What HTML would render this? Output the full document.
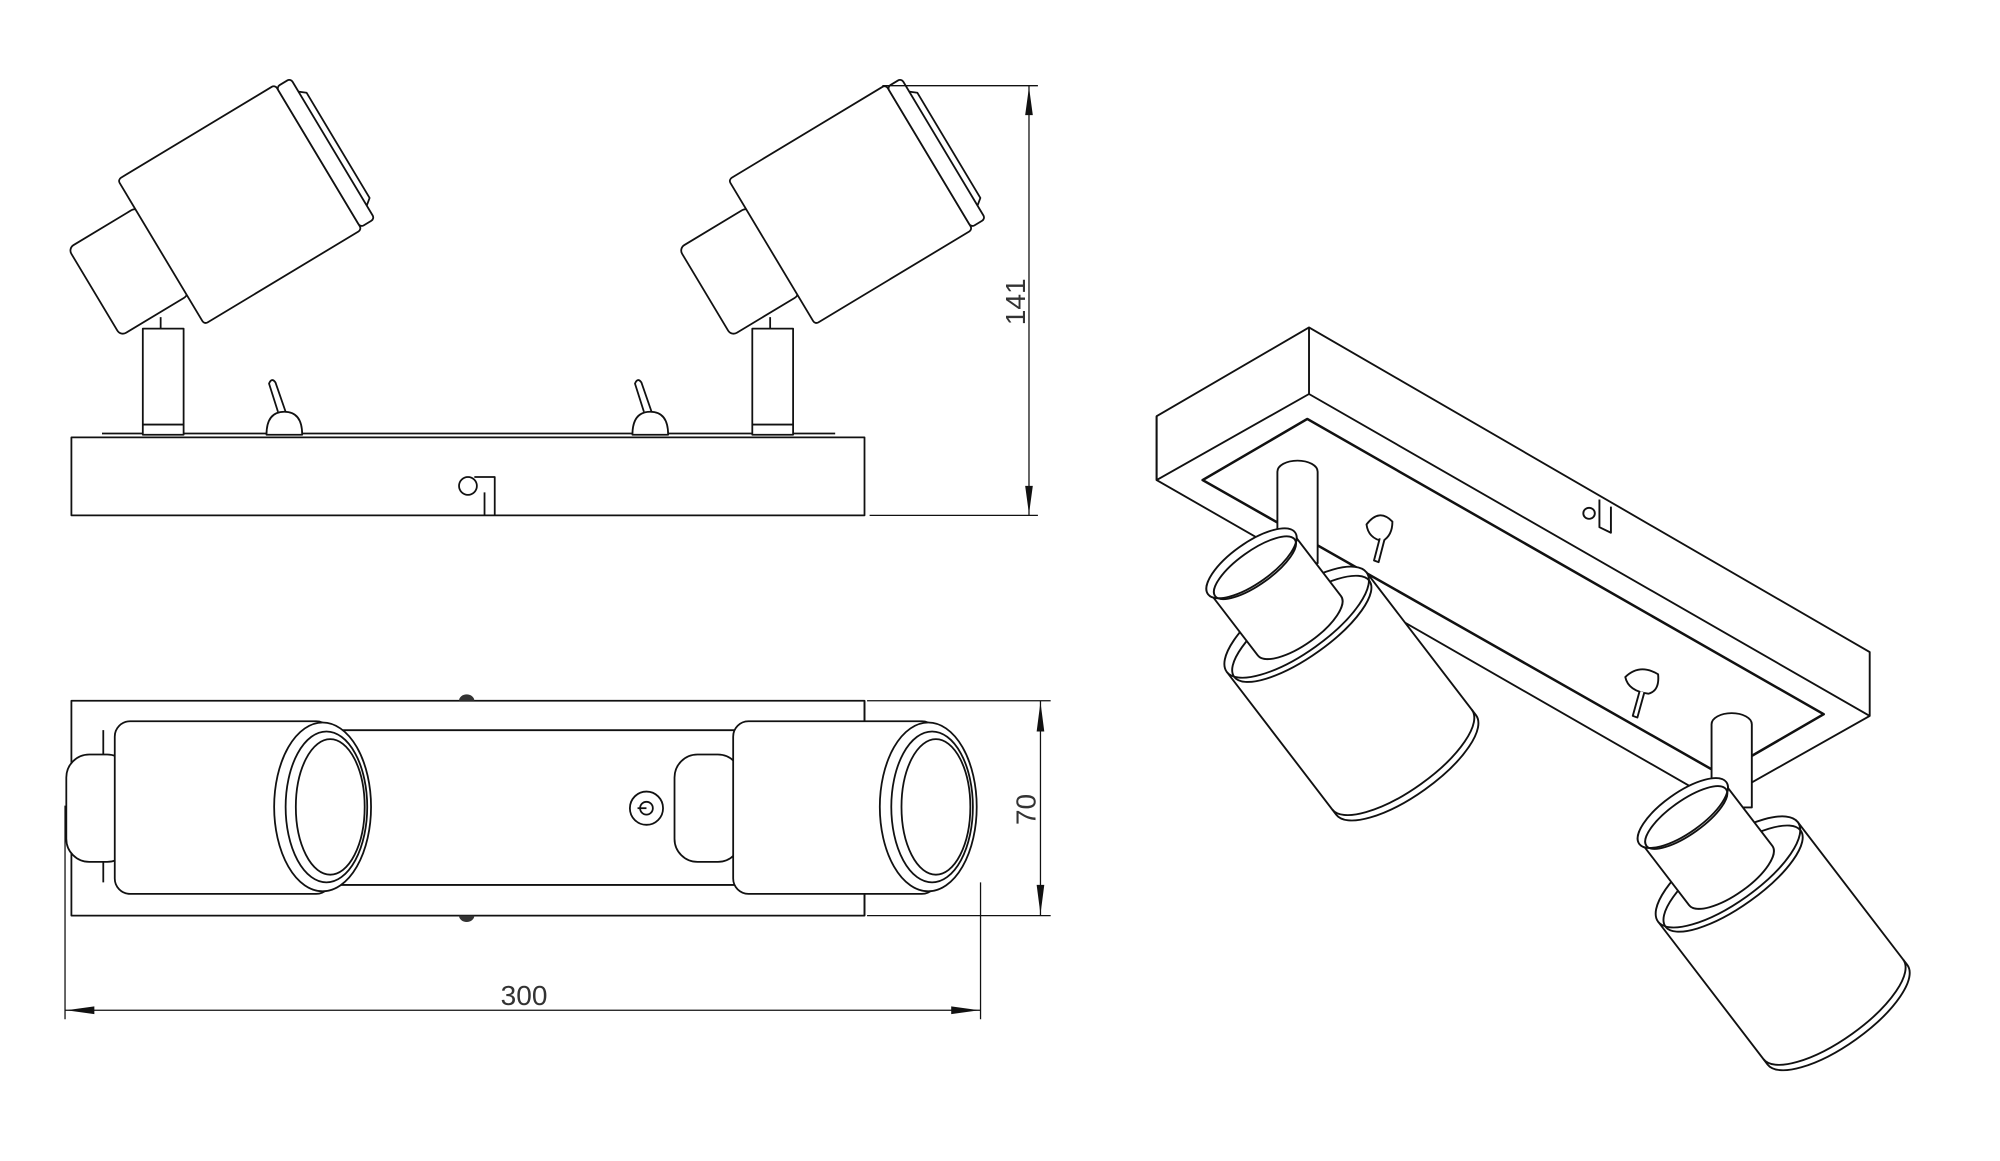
<!DOCTYPE html>
<html><head><meta charset="utf-8"><style>html,body{margin:0;padding:0;background:#fff}svg{display:block}</style></head>
<body>
<svg width="2000" height="1161" viewBox="0 0 1545 897" preserveAspectRatio="none" xmlns="http://www.w3.org/2000/svg">
<g transform="scale(0.985 0.988)">
<g fill="#fff" stroke="#111" stroke-width="1.4" stroke-linejoin="round">

<!-- ===== SIDE VIEW ===== -->
<line x1="80" y1="339" x2="655" y2="339"/>
<rect x="56" y="342" width="622" height="61"/>
<circle cx="367" cy="380" r="7"/>
<path d="M372 373 H388 V403 M380 403 V385" fill="none"/>
<rect x="112" y="257" width="32" height="83"/>
<line x1="112" y1="332" x2="144" y2="332"/>
<rect x="590" y="257" width="32" height="83"/>
<line x1="590" y1="332" x2="622" y2="332"/>
<line x1="126" y1="248" x2="126" y2="257"/><line x1="604" y1="248" x2="604" y2="257"/>
<path d="M209 340 Q209 322 223 322 Q237 322 237 340 Z"/>
<path d="M218 322 L211 300 Q213 295 216 299 L224 322" fill="none"/>
<path d="M496 340 Q496 322 510 322 Q524 322 524 340 Z"/>
<path d="M505 322 L498 300 Q500 295 503 299 L511 322" fill="none"/>
<g transform="translate(188 160) rotate(-31)">
 <rect x="-133" y="-40" width="63" height="80" rx="5"/>
 <rect x="-72" y="-66" width="144" height="132" rx="3"/>
 <rect x="72" y="-64" width="13" height="128" rx="3"/>
 <path d="M85 -52 L90 -48 V48 L85 52" fill="none"/>
</g>
<g transform="translate(667 160) rotate(-31)">
 <rect x="-133" y="-40" width="63" height="80" rx="5"/>
 <rect x="-72" y="-66" width="144" height="132" rx="3"/>
 <rect x="72" y="-64" width="13" height="128" rx="3"/>
 <path d="M85 -52 L90 -48 V48 L85 52" fill="none"/>
</g>
<g stroke-width="1">
 <line x1="692" y1="67" x2="814" y2="67"/>
 <line x1="682" y1="403" x2="814" y2="403"/>
 <line x1="807" y1="67" x2="807" y2="403"/>
</g>
<path d="M807 68 L804 90 L810 90 Z M807 402 L804 380 L810 380 Z" fill="#111" stroke="none"/>
<text x="0" y="0" transform="translate(804 236) rotate(-90)" font-family="Liberation Sans, sans-serif" font-size="22" fill="#333" stroke="none" text-anchor="middle">141</text>

<!-- ===== TOP VIEW ===== -->
<rect x="56" y="548" width="622" height="168"/>
<path d="M360 548 a6 5 0 0 1 12 0 Z M360 716 a6 5 0 0 0 12 0 Z" fill="#333" stroke="none"/>
<rect x="250" y="571" width="330" height="121"/>
<path d="M81 690 V571" fill="none"/>
<rect x="52" y="590" width="50" height="84" rx="18"/>
<rect x="90" y="564" width="170" height="135" rx="12"/>
<ellipse cx="253" cy="631" rx="38" ry="66"/>
<ellipse cx="256" cy="631" rx="32" ry="59"/>
<ellipse cx="259" cy="631" rx="27" ry="53"/>
<circle cx="507" cy="632" r="13"/><circle cx="507" cy="632" r="5"/>
<line x1="507" y1="632" x2="500" y2="632"/>
<rect x="529" y="590" width="52" height="84" rx="18"/>
<rect x="575" y="564" width="160" height="135" rx="12"/>
<ellipse cx="728" cy="631" rx="38" ry="66"/>
<ellipse cx="731" cy="631" rx="32" ry="59"/>
<ellipse cx="734" cy="631" rx="27" ry="53"/>
<line x1="678" y1="548" x2="678" y2="564"/><line x1="678" y1="699" x2="678" y2="716"/>
<g stroke-width="1">
 <line x1="680" y1="548" x2="824" y2="548"/>
 <line x1="680" y1="716" x2="824" y2="716"/>
 <line x1="816" y1="548" x2="816" y2="716"/>
 <line x1="51" y1="630" x2="51" y2="797"/>
 <line x1="769" y1="690" x2="769" y2="797"/>
 <line x1="51" y1="790" x2="769" y2="790"/>
</g>
<path d="M816 549 L813 572 L819 572 Z M816 715 L813 692 L819 692 Z M52 790 L74 787 L74 793 Z M768 790 L746 787 L746 793 Z" fill="#111" stroke="none"/>
<text x="0" y="0" transform="translate(812 633) rotate(-90)" font-family="Liberation Sans, sans-serif" font-size="22" fill="#333" stroke="none" text-anchor="middle">70</text>
<text x="411" y="786" font-family="Liberation Sans, sans-serif" font-size="22" fill="#333" stroke="none" text-anchor="middle">300</text>
</g>

<!-- ===== ISOMETRIC ===== -->
<g transform="matrix(0.451 0 0 0.434 862 236.5)" fill="#fff" stroke="#111" stroke-width="3.3" stroke-linejoin="round">
 <polygon points="100,205 365,45 1340,630 1340,745 1075,900 100,320"/>
 <polyline points="100,205 100,320 365,165 1340,745" fill="none"/>
 <line x1="365" y1="45" x2="365" y2="165"/>
 <polygon points="180,320 362,210 1260,742 1080,850" fill="none" stroke-width="4.5"/>
 <path d="M870 355 V405 L890 415 V368" fill="none"/>
 <circle cx="852" cy="380" r="10"/>
 <path d="M465 400 Q487 370 510 395 Q510 420 493 430 Q468 425 465 400 Z"/>
 <path d="M488 425 L478 465 L486 468 L496 428" />
 <path d="M915 675 Q940 650 972 670 Q975 700 955 705 Q920 700 915 675 Z"/>
 <path d="M940 700 L928 745 L936 748 L948 703"/>
 <path d="M310 470 V305 A35 20 0 0 1 380 305 V470 Z"/>
 <path d="M1065 910 V760 A35 20 0 0 1 1135 760 V910 Z"/>
 <g transform="translate(265 470) rotate(-36.5)">
  <path d="M-151 132 V452 A151 55 0 0 0 151 452 V132 Z"/>
  <path d="M-151 440 A151 55 0 0 0 151 440" fill="none"/>
  <ellipse cx="0" cy="132" rx="151" ry="55"/>
  <ellipse cx="0" cy="147" rx="146" ry="50" fill="none"/>
  <path d="M-90 0 V140 A90 34 0 0 0 90 140 V0 Z"/>
  <ellipse cx="0" cy="0" rx="94" ry="36"/>
  <ellipse cx="0" cy="10" rx="86" ry="30" fill="none"/>
 </g>
 <g transform="translate(1015 920) rotate(-36.5)">
  <path d="M-151 132 V452 A151 55 0 0 0 151 452 V132 Z"/>
  <path d="M-151 440 A151 55 0 0 0 151 440" fill="none"/>
  <ellipse cx="0" cy="132" rx="151" ry="55"/>
  <ellipse cx="0" cy="147" rx="146" ry="50" fill="none"/>
  <path d="M-90 0 V140 A90 34 0 0 0 90 140 V0 Z"/>
  <ellipse cx="0" cy="0" rx="94" ry="36"/>
  <ellipse cx="0" cy="10" rx="86" ry="30" fill="none"/>
 </g>
</g>
</g>
</svg>
</body></html>
